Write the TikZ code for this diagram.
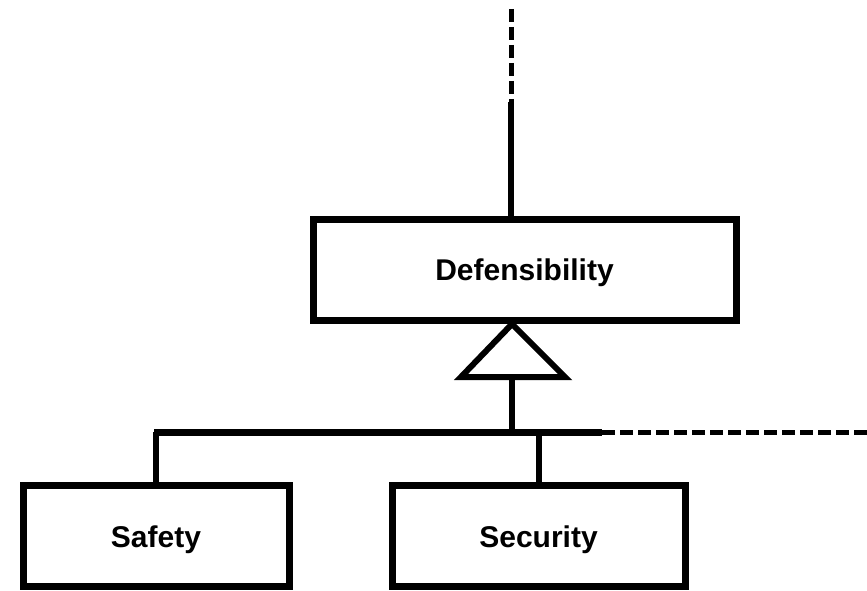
\documentclass[tikz,border=0pt]{standalone}
\usepackage{fontspec}
\setmainfont{Liberation Sans}
\begin{document}
\begin{tikzpicture}[x=1pt,y=-1pt,
  box/.style={draw=black,line width=7pt,fill=white,minimum height=101pt,inner sep=0pt,
    text depth=0pt,font=\fontsize{30}{36}\selectfont\bfseries},
  conn/.style={line width=6pt},
  dconn/.style={line width=5pt,dash pattern=on 13pt off 5pt}]
\useasboundingbox (0,0) rectangle (867,591);
\node[box,minimum width=423pt] (def) at (524.5,269.5) {Defensibility};
\node[box,minimum width=266pt] (safe) at (156,535.5) {\raisebox{-3pt}{Safety}};
\node[box,minimum width=293pt] (sec) at (538.5,535.5) {\raisebox{-3pt}{Security}};
\coordinate (top) at (511,9);
\coordinate (mid) at (511,102);
\coordinate (apex) at (512,324);
\coordinate (bl) at (461,377);
\coordinate (br) at (565,377);
\coordinate (bc) at (512,377);
\coordinate (busL) at (154,432);
\coordinate (busR) at (602,432);
\coordinate (busE) at (867,432);
\draw[dconn] (top) -- (mid);
\draw[conn] (mid) -- (mid |- def.north);
\draw[conn,line join=miter] (apex) -- (bl) -- (br) -- cycle;
\draw[conn] (bc) -- (bc |- busL);
\draw[line width=7pt] (busL) -- (busR);
\draw[dconn] (busR) -- (busE);
\draw[conn] (safe.north) -- (safe.north |- busL);
\draw[conn] (sec.north) -- (sec.north |- busL);
\end{tikzpicture}
\end{document}
